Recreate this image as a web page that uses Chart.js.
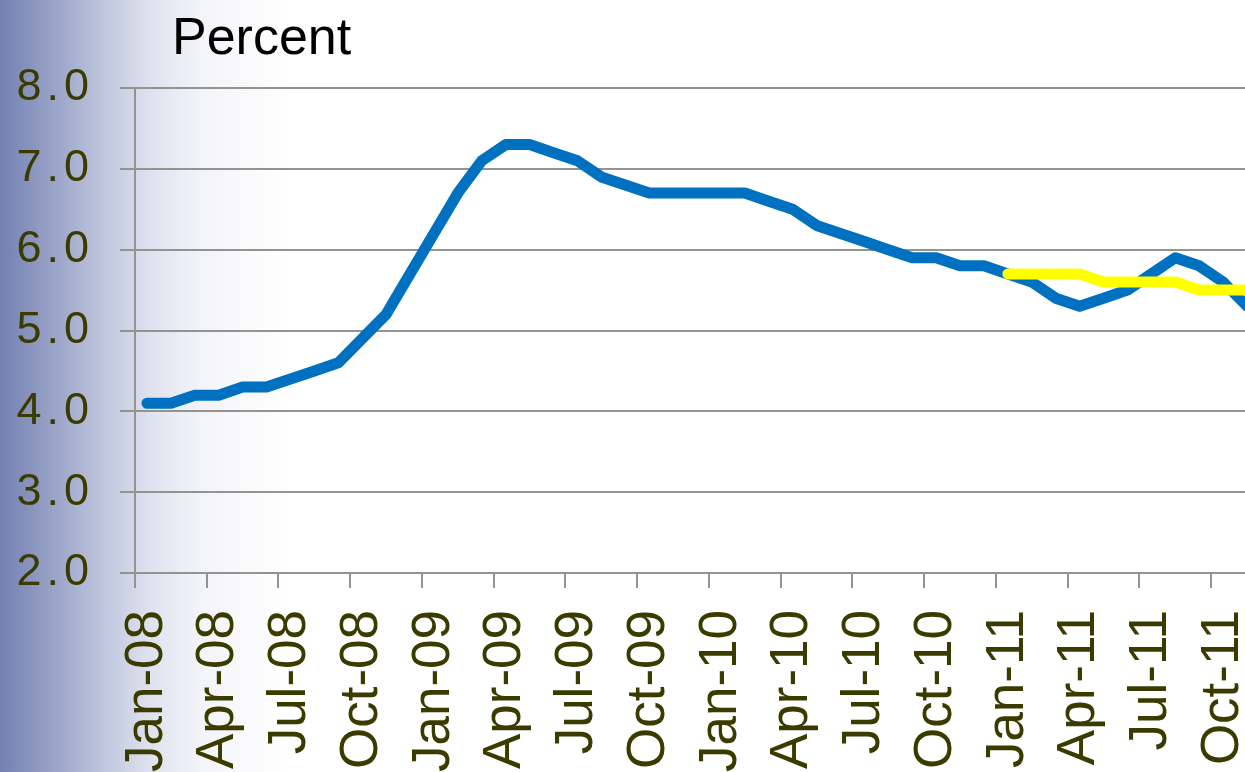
<!DOCTYPE html>
<html>
<head>
<meta charset="utf-8">
<script src="https://cdn.jsdelivr.net/npm/chart.js@4/dist/chart.umd.min.js"></script>
<style>
    html, body {
        margin: 0;
        padding: 0;
        width: 1245px;
        height: 772px;
        overflow: hidden;
        background: linear-gradient(to right, #7380b2 0px, #97a1c6 50px, #bcc3dc 100px, #dfe2ef 150px, #f3f4f9 200px, #ffffff 290px);
    }
    #wrap {
        position: absolute;
        left: 0;
        top: 0;
        width: 1262px;
        height: 772px;
    }
</style>
</head>
<body>
<div id="wrap"><canvas id="lineChart"></canvas></div>
<script>
const months = [
    'Jan-08', 'Feb-08', 'Mar-08', 'Apr-08', 'May-08', 'Jun-08', 'Jul-08', 'Aug-08', 'Sep-08', 'Oct-08', 'Nov-08', 'Dec-08',
    'Jan-09', 'Feb-09', 'Mar-09', 'Apr-09', 'May-09', 'Jun-09', 'Jul-09', 'Aug-09', 'Sep-09', 'Oct-09', 'Nov-09', 'Dec-09',
    'Jan-10', 'Feb-10', 'Mar-10', 'Apr-10', 'May-10', 'Jun-10', 'Jul-10', 'Aug-10', 'Sep-10', 'Oct-10', 'Nov-10', 'Dec-10',
    'Jan-11', 'Feb-11', 'Mar-11', 'Apr-11', 'May-11', 'Jun-11', 'Jul-11', 'Aug-11', 'Sep-11', 'Oct-11', 'Nov-11'
];

// blue line, monthly
const actual = [
    4.1, 4.1, 4.2, 4.2, 4.3, 4.3, 4.4, 4.5, 4.6, 4.9, 5.2, 5.7,
    6.2, 6.7, 7.1, 7.3, 7.3, 7.2, 7.1, 6.9, 6.8, 6.7, 6.7, 6.7,
    6.7, 6.7, 6.6, 6.5, 6.3, 6.2, 6.1, 6.0, 5.9, 5.9, 5.8, 5.8,
    5.7, 5.6, 5.4, 5.3, 5.4, 5.5, 5.7, 5.9, 5.8, 5.6, 5.3
];

// yellow line, from Jan-11
const forecastMonths = ['Jan-11', 'Feb-11', 'Mar-11', 'Apr-11', 'May-11', 'Jun-11', 'Jul-11', 'Aug-11', 'Sep-11', 'Oct-11', 'Nov-11'];
const forecast = [5.7, 5.7, 5.7, 5.7, 5.6, 5.6, 5.6, 5.6, 5.5, 5.5, 5.5];

const yTicks = [2.0, 3.0, 4.0, 5.0, 6.0, 7.0, 8.0];

const fontFamily = "'Liberation Sans', Arial, sans-serif";
const labelColor = '#3b3b00';
const gridColor = '#939390';

// linear scale whose tick labels are drawn a bit spaced out
class SpacedLinearScale extends Chart.LinearScale {
    drawLabels(chartArea) {
        const ctx = this.ctx;
        ctx.save();
        ctx.letterSpacing = (this.options.letterSpacing || 0) + 'px';
        super.drawLabels(chartArea);
        ctx.restore();
    }
}
SpacedLinearScale.id = 'spacedLinear';
SpacedLinearScale.defaults = Chart.LinearScale.defaults;
Chart.register(SpacedLinearScale);

// "Percent" caption above the axis
const captionPlugin = {
    id: 'caption',
    afterDraw(chart) {
        const ctx = chart.ctx;
        ctx.save();
        ctx.font = '52px ' + fontFamily;
        ctx.fillStyle = '#000000';
        ctx.textAlign = 'left';
        ctx.textBaseline = 'alphabetic';
        ctx.fillText('Percent', chart.chartArea.left + 37, 54);
        ctx.restore();
    }
};

const ctxLine = document.getElementById('lineChart').getContext('2d');
new Chart(ctxLine, {
    type: 'line',
    data: {
        labels: months,
        datasets: [{
            label: 'Actual',
            data: actual,
            order: 1,
            borderColor: '#0070c0',
            borderWidth: 11,
            borderCapStyle: 'round',
            borderJoinStyle: 'round',
            pointRadius: 0,
            tension: 0,
            fill: false
        }, {
            label: 'Forecast',
            data: forecastMonths.map((m, i) => ({ x: m, y: forecast[i] })),
            order: 0,
            borderColor: '#ffff00',
            borderWidth: 11,
            borderCapStyle: 'round',
            borderJoinStyle: 'round',
            pointRadius: 0,
            tension: 0,
            fill: false
        }]
    },
    options: {
        responsive: true,
        maintainAspectRatio: false,
        animation: false,
        layout: {
            padding: { top: 88, left: 0, right: 3, bottom: 0 }
        },
        plugins: {
            legend: { display: false },
            tooltip: { enabled: false }
        },
        scales: {
            x: {
                offset: true,
                grid: {
                    offset: true,
                    drawOnChartArea: false,
                    drawTicks: true,
                    tickLength: 15,
                    lineWidth: 2,
                    color: c => (c.index % 3 === 0 ? gridColor : 'rgba(0,0,0,0)')
                },
                border: { display: true, color: gridColor, width: 2 },
                ticks: {
                    autoSkip: false,
                    minRotation: 90,
                    maxRotation: 90,
                    padding: 22,
                    color: labelColor,
                    font: { family: fontFamily, size: 53 },
                    callback: function(value, index) {
                        return index % 3 === 0 ? months[index] : '';
                    }
                },
                afterFit: s => {
                    s.height = 199;
                    s.paddingLeft = 0;
                    s.paddingRight = 0;
                }
            },
            y: {
                type: 'spacedLinear',
                letterSpacing: 5,
                min: yTicks[0],
                max: yTicks[yTicks.length - 1],
                afterBuildTicks: axis => {
                    axis.ticks = yTicks.map(v => ({ value: v }));
                },
                grid: {
                    color: gridColor,
                    lineWidth: 2,
                    tickLength: 15
                },
                border: { display: true, color: gridColor, width: 2 },
                ticks: {
                    padding: 26,
                    color: labelColor,
                    font: { family: fontFamily, size: 45 },
                    callback: v => v.toFixed(1)
                },
                afterFit: s => {
                    s.width = 135;
                    s.paddingTop = 0;
                    s.paddingBottom = 0;
                }
            }
        }
    },
    plugins: [captionPlugin]
});
</script>
</body>
</html>
